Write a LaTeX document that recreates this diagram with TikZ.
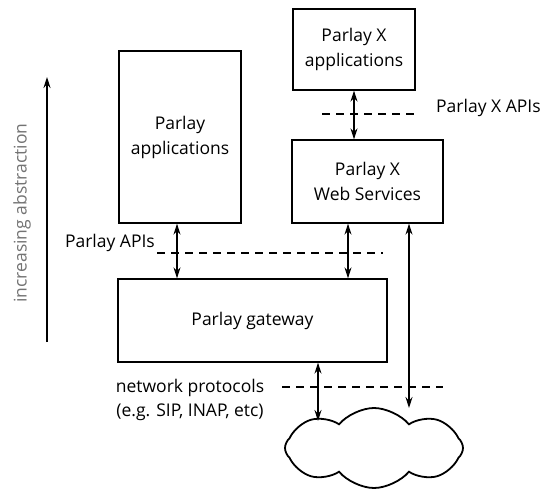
\documentclass[tikz,border=0pt]{standalone}
\usepackage{fontspec}
\setmainfont{Open Sans}
\usetikzlibrary{arrows.meta,shapes.symbols}
\begin{document}
\begin{tikzpicture}[x=1pt,y=-1pt,
  box/.style={draw,line width=1.3pt,inner sep=0pt,align=center,font=\fontsize{17.5}{25}\selectfont},
  dbl/.style={line width=1.3pt,{Stealth[length=11pt,width=7pt]}-{Stealth[length=11pt,width=7pt]}},
  api/.style={line width=2pt,dash pattern=on 8pt off 6pt},
  lbl/.style={font=\fontsize{17.5}{24.5}\selectfont,inner sep=0pt,align=center}]
\useasboundingbox (0,0) rectangle (546,503);

% layers
\node[box,minimum width=122pt,minimum height=81pt] (pxapp) at (354,49.5) {Parlay X\\applications};
\node[box,minimum width=151pt,minimum height=83pt] (pxws) at (367.5,181.5) {Parlay X\\Web Services};
\node[box,minimum width=122pt,minimum height=172pt] (papp) at (180,137) {Parlay\\applications};
\node[box,minimum width=269pt,minimum height=83pt] (gw) at (252.5,320.5) {Parlay gateway};
\node[cloud,draw,line width=1.8pt,cloud puffs=8,cloud puff arc=100,aspect=2.2,
      minimum width=178pt,minimum height=80pt,inner sep=0pt] (net) at (374,448) {};

% arrow columns and cloud contact points
\coordinate (cA) at (177,0);
\coordinate (cB) at (348,0);
\coordinate (cC) at (409,0);
\coordinate (cD) at (318,0);
\coordinate (netL) at (318,421);
\coordinate (netR) at (409,408);

% interfaces
\node[lbl,anchor=west] (pxapis) at (436,108) {Parlay X APIs};
\coordinate (pxa1) at (322,114);
\coordinate (pxa2) at (417,114);
\draw[api] (pxa1) -- (pxa2);

\node[lbl,anchor=east] (papis) at (155,243) {Parlay APIs};
\coordinate (pa1) at (157,253);
\coordinate (pa2) at (383,253);
\draw[api] (pa1) -- (pa2);

\node[lbl] (proto) at (190,400) {network protocols\\(e.g. SIP, INAP, etc)};
\coordinate (np1) at (282,387);
\coordinate (np2) at (443,387);
\draw[api] (np1) -- (np2);

% connectors
\draw[dbl] (pxapp.south) -- (pxapp.south |- pxws.north);
\draw[dbl] (papp.south -| cA) -- (gw.north -| cA);
\draw[dbl] (pxws.south -| cB) -- (gw.north -| cB);
\draw[dbl] (pxws.south -| cC) -- (netR);
\draw[dbl] (gw.south -| cD) -- (netL);

% abstraction axis
\coordinate (ab1) at (47,342);
\coordinate (ab2) at (47,77);
\draw[line width=1.3pt,-{Stealth[length=11pt,width=7pt]}] (ab1) -- (ab2);
\node[lbl,rotate=90,text=black!55] (abs) at (22,213) {increasing abstraction};
\end{tikzpicture}
\end{document}
